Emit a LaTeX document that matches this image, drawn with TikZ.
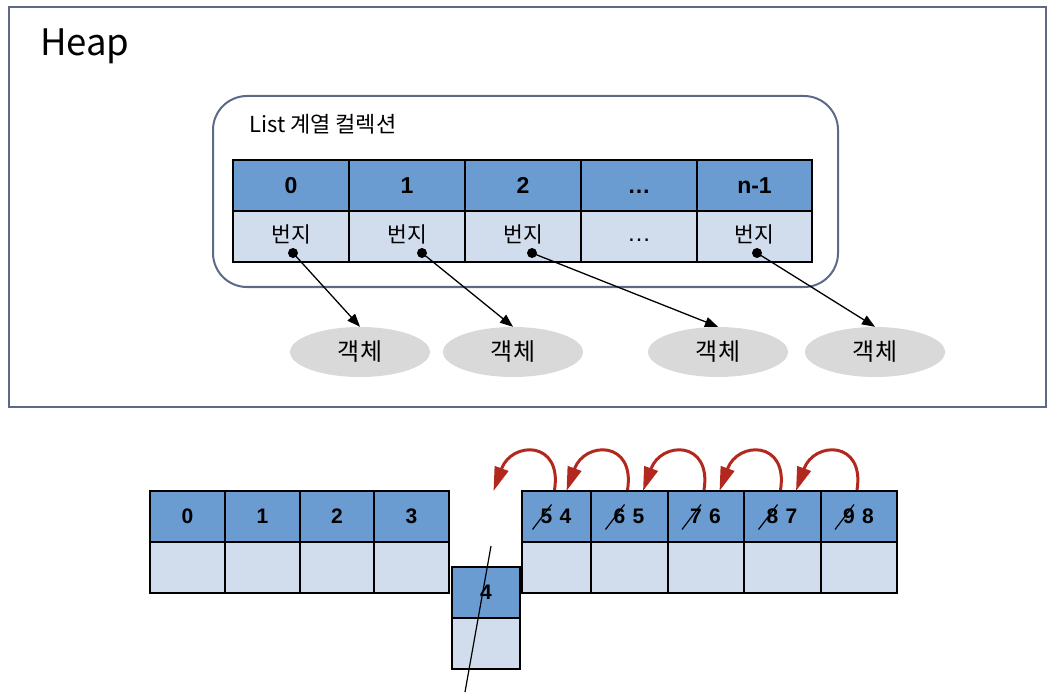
\documentclass[tikz,border=0pt]{standalone}
\usepackage{fontspec}
\setmainfont{Liberation Sans}
\newfontfamily\kr{Noto Sans CJK KR}
\usetikzlibrary{arrows.meta,shapes.geometric}
\definecolor{frame}{HTML}{5C6A86}
\definecolor{hblue}{HTML}{6A9BD1}
\definecolor{lblue}{HTML}{D1DDEC}
\definecolor{objgray}{HTML}{D9D9D9}
\definecolor{redarrow}{HTML}{B3281E}
\begin{document}
\begin{tikzpicture}[x=1pt,y=-1pt,
  hcell/.style={draw=black,line width=2pt,fill=hblue,minimum height=51pt,inner sep=0pt,
     font=\bfseries\fontsize{21}{25}\selectfont},
  tophead/.style={hcell,font=\bfseries\fontsize{23}{27}\selectfont},
  lcell/.style={draw=black,line width=2pt,fill=lblue,minimum height=51pt,inner sep=0pt},
  obj/.style={ellipse,fill=objgray,minimum width=140pt,minimum height=50pt,inner sep=0pt,
     font=\kr\fontsize{24}{28}\selectfont},
  dotpt/.style={circle,fill=black,minimum size=10pt,inner sep=0pt},
  ptr/.style={line width=1.3pt,-{Triangle[length=13pt,width=10pt]}},
  redshift/.style={line width=3pt,draw=redarrow,-{Triangle[length=24pt,width=14pt]}},
  dig/.style={font=\bfseries\fontsize{21}{25}\selectfont,inner sep=0pt},
  krtext/.style={font=\kr\fontsize{21.5}{26}\selectfont,inner sep=0pt}
]
\useasboundingbox (0,0) rectangle (1056,700);
% Heap frame
\node[draw=frame,line width=2pt,minimum width=1037pt,minimum height=400pt,inner sep=0pt] (heap) at (527.5,207) {};
\node[anchor=west,font=\kr\fontsize{36.5}{42}\selectfont,inner sep=0pt] (heaplbl) at (40,46) {Heap};
% collection box
\node[draw=frame,line width=2pt,rounded corners=34pt,minimum width=625pt,minimum height=191pt,inner sep=0pt] (coll) at (525.5,191.5) {};
\node[anchor=west,font=\kr\fontsize{22}{26}\selectfont,inner sep=0pt] (colllbl) at (249,124) {List 계열 컬렉션};
% top table
\node[tophead,minimum width=116pt] (t0) at (291,185.5) {0};
\node[tophead,minimum width=116pt] (t1) at (407,185.5) {1};
\node[tophead,minimum width=116pt] (t2) at (523,185.5) {2};
\node[tophead,minimum width=116pt] (t3) at (639,185.5) {\vphantom{0}…};
\node[tophead,minimum width=115pt] (t4) at (754.5,185.5) {n-1};
\node[lcell,minimum width=116pt] (b0) at (291,236.5) {};
\node[lcell,minimum width=116pt] (b1) at (407,236.5) {};
\node[lcell,minimum width=116pt] (b2) at (523,236.5) {};
\node[lcell,minimum width=116pt] (b3) at (639,236.5) {};
\node[lcell,minimum width=115pt] (b4) at (754.5,236.5) {};
\node[krtext] (a0) at (291,234) {번지};
\node[krtext] (a1) at (407,234) {번지};
\node[krtext] (a2) at (523,234) {번지};
\node[font=\fontsize{24}{28}\selectfont,inner sep=0pt] (a3) at (639,240) {…};
\node[krtext] (a4) at (754.5,234) {번지};
\node[dotpt] (d0) at (293,253) {};
\node[dotpt] (d1) at (422,253) {};
\node[dotpt] (d2) at (532,253) {};
\node[dotpt] (d3) at (757,253) {};
% objects
\node[obj] (e0) at (360,352) {객체};
\node[obj] (e1) at (513,352) {객체};
\node[obj] (e2) at (718,352) {객체};
\node[obj] (e3) at (875,352) {객체};
\draw[ptr] (d0.center) -- (e0.north);
\draw[ptr] (d1.center) -- (e1.north);
\draw[ptr] (d2.center) -- (e2.north);
\draw[ptr] (d3.center) -- (e3.north);
% bottom left table
\foreach \n/\x/\t in {0/187.5/0,1/262.5/1,2/337/2,3/411.5/3}{
  \node[hcell,minimum width=75pt] (L\n) at (\x,516.5) {\t};
  \node[lcell,minimum width=75pt] (LL\n) at (\x,567.5) {};
}
% removed cell
\node[hcell,minimum width=68pt] (m0) at (486,592.5) {4};
\node[lcell,minimum width=68pt] (m1) at (486,643.5) {};
\coordinate (cutA) at (491,546);
\coordinate (cutB) at (465,692);
\draw[line width=1.2pt] (cutA) -- (cutB);
% bottom right table
\foreach \n/\x/\w/\o/\t in {0/556.5/69/5/4,1/629.5/77/6/5,2/706/76/7/6,3/782.5/77/8/7,4/859/76/9/8}{
  \node[hcell,minimum width=\w pt] (R\n) at (\x,516.5) {};
  \node[lcell,minimum width=\w pt] (RR\n) at (\x,567.5) {};
  \node[dig] (old\n) at ([xshift=-10pt]R\n.center) {\o};
  \node[dig] (new\n) at ([xshift=9pt]R\n.center) {\t};
  \draw[line width=1.2pt] ([shift={(-14,13)}]old\n.center) -- ([shift={(5,-12)}]old\n.center);
  \coordinate (s\n) at ([xshift=-2pt]R\n.north);
  \coordinate (e\n) at ([xshift=-63pt,yshift=-1pt]R\n.north);
  \draw[redshift] (s\n) .. controls ([shift={(8,-50)}]s\n) and ([shift={(18,-50)}]e\n) .. (e\n);
}
\end{tikzpicture}
\end{document}
